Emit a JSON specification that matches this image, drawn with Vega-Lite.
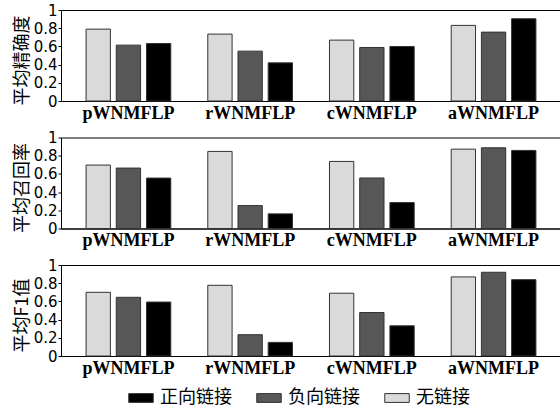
{
  "$schema": "https://vega.github.io/schema/vega-lite/v6.json",
  "padding": {"left": 12, "top": 2, "right": 0, "bottom": 5},
  "background": "white",
  "data": {
    "values": [
      {"m": "P", "method": "pWNMFLP", "link": "无链接", "value": 0.79},
      {"m": "P", "method": "pWNMFLP", "link": "负向链接", "value": 0.614},
      {"m": "P", "method": "pWNMFLP", "link": "正向链接", "value": 0.632},
      {"m": "P", "method": "rWNMFLP", "link": "无链接", "value": 0.735},
      {"m": "P", "method": "rWNMFLP", "link": "负向链接", "value": 0.548},
      {"m": "P", "method": "rWNMFLP", "link": "正向链接", "value": 0.419},
      {"m": "P", "method": "cWNMFLP", "link": "无链接", "value": 0.669},
      {"m": "P", "method": "cWNMFLP", "link": "负向链接", "value": 0.588},
      {"m": "P", "method": "cWNMFLP", "link": "正向链接", "value": 0.599},
      {"m": "P", "method": "aWNMFLP", "link": "无链接", "value": 0.831},
      {"m": "P", "method": "aWNMFLP", "link": "负向链接", "value": 0.757},
      {"m": "P", "method": "aWNMFLP", "link": "正向链接", "value": 0.904},
      {"m": "R", "method": "pWNMFLP", "link": "无链接", "value": 0.697},
      {"m": "R", "method": "pWNMFLP", "link": "负向链接", "value": 0.664},
      {"m": "R", "method": "pWNMFLP", "link": "正向链接", "value": 0.554},
      {"m": "R", "method": "rWNMFLP", "link": "无链接", "value": 0.847},
      {"m": "R", "method": "rWNMFLP", "link": "负向链接", "value": 0.252},
      {"m": "R", "method": "rWNMFLP", "link": "正向链接", "value": 0.161},
      {"m": "R", "method": "cWNMFLP", "link": "无链接", "value": 0.737},
      {"m": "R", "method": "cWNMFLP", "link": "负向链接", "value": 0.555},
      {"m": "R", "method": "cWNMFLP", "link": "正向链接", "value": 0.285},
      {"m": "R", "method": "aWNMFLP", "link": "无链接", "value": 0.872},
      {"m": "R", "method": "aWNMFLP", "link": "负向链接", "value": 0.887},
      {"m": "R", "method": "aWNMFLP", "link": "正向链接", "value": 0.858},
      {"m": "F", "method": "pWNMFLP", "link": "无链接", "value": 0.70},
      {"m": "F", "method": "pWNMFLP", "link": "负向链接", "value": 0.645},
      {"m": "F", "method": "pWNMFLP", "link": "正向链接", "value": 0.593},
      {"m": "F", "method": "rWNMFLP", "link": "无链接", "value": 0.777},
      {"m": "F", "method": "rWNMFLP", "link": "负向链接", "value": 0.234},
      {"m": "F", "method": "rWNMFLP", "link": "正向链接", "value": 0.150},
      {"m": "F", "method": "cWNMFLP", "link": "无链接", "value": 0.690},
      {"m": "F", "method": "cWNMFLP", "link": "负向链接", "value": 0.478},
      {"m": "F", "method": "cWNMFLP", "link": "正向链接", "value": 0.332},
      {"m": "F", "method": "aWNMFLP", "link": "无链接", "value": 0.869},
      {"m": "F", "method": "aWNMFLP", "link": "负向链接", "value": 0.920},
      {"m": "F", "method": "aWNMFLP", "link": "正向链接", "value": 0.839}
    ]
  },
  "config": {
    "view": {"stroke": "black", "strokeWidth": 1},
    "axis": {"domainColor": "black", "domainWidth": 1, "grid": false},
    "legend": {"labelFont": "Noto Sans CJK SC", "labelFontSize": 18, "labelColor": "black"}
  },
  "bounds": "flush",
  "spacing": 36.5,
  "vconcat": [
    {
      "width": 500, "height": 91,
      "transform": [{"filter": "datum.m == 'P'"}],
      "mark": {"type": "bar", "stroke": "#333333", "strokeWidth": 1},
      "encoding": {
        "x": {"field": "method", "type": "nominal", "sort": ["pWNMFLP", "rWNMFLP", "cWNMFLP", "aWNMFLP"],
              "scale": {"paddingInner": 0, "paddingOuter": 0.054},
              "axis": {"title": null, "labelAngle": 0, "ticks": false, "labelPadding": 3, "labelFont": "Liberation Serif", "labelFontWeight": "bold", "labelFontSize": 18, "labelColor": "black"}},
        "xOffset": {"field": "link", "type": "nominal", "sort": ["无链接", "负向链接", "正向链接"],
                    "scale": {"paddingInner": 0.195, "paddingOuter": 0.6125}},
        "y": {"field": "value", "type": "quantitative", "scale": {"domain": [0, 1]},
              "axis": {"title": "平均精确度", "values": [0, 0.2, 0.4, 0.6, 0.8, 1], "format": ".1~f", "labelOverlap": false, "tickSize": 3, "tickColor": "black", "labelPadding": 1, "labelFont": "DejaVu Sans", "labelFontSize": 15, "labelColor": "black", "titleFont": "Noto Sans CJK SC", "titleFontSize": 18, "titleFontWeight": "normal", "titleColor": "black", "titlePadding": 2, "titleY": 50}},
        "color": {"field": "link", "type": "nominal",
                  "scale": {"domain": ["正向链接", "负向链接", "无链接"], "range": ["#000000", "#575757", "#dadada"]},
                  "legend": {"title": null, "orient": "none", "direction": "horizontal", "legendX": 67, "legendY": 375, "symbolType": "M-1,-0.36H1V0.36H-1Z", "symbolSize": 600, "symbolStrokeColor": "#333333", "symbolStrokeWidth": 1, "labelOffset": 6, "columnPadding": 22}}
      }
    },
    {
      "width": 500, "height": 91,
      "transform": [{"filter": "datum.m == 'R'"}],
      "mark": {"type": "bar", "stroke": "#333333", "strokeWidth": 1},
      "encoding": {
        "x": {"field": "method", "type": "nominal", "sort": ["pWNMFLP", "rWNMFLP", "cWNMFLP", "aWNMFLP"],
              "scale": {"paddingInner": 0, "paddingOuter": 0.054},
              "axis": {"title": null, "labelAngle": 0, "ticks": false, "labelPadding": 3, "labelFont": "Liberation Serif", "labelFontWeight": "bold", "labelFontSize": 18, "labelColor": "black"}},
        "xOffset": {"field": "link", "type": "nominal", "sort": ["无链接", "负向链接", "正向链接"],
                    "scale": {"paddingInner": 0.195, "paddingOuter": 0.6125}},
        "y": {"field": "value", "type": "quantitative", "scale": {"domain": [0, 1]},
              "axis": {"title": "平均召回率", "values": [0, 0.2, 0.4, 0.6, 0.8, 1], "format": ".1~f", "labelOverlap": false, "tickSize": 3, "tickColor": "black", "labelPadding": 1, "labelFont": "DejaVu Sans", "labelFontSize": 15, "labelColor": "black", "titleFont": "Noto Sans CJK SC", "titleFontSize": 18, "titleFontWeight": "normal", "titleColor": "black", "titlePadding": 2, "titleY": 50}},
        "color": {"field": "link", "type": "nominal",
                  "scale": {"domain": ["正向链接", "负向链接", "无链接"], "range": ["#000000", "#575757", "#dadada"]},
                  "legend": null}
      }
    },
    {
      "width": 500, "height": 91,
      "transform": [{"filter": "datum.m == 'F'"}],
      "mark": {"type": "bar", "stroke": "#333333", "strokeWidth": 1},
      "encoding": {
        "x": {"field": "method", "type": "nominal", "sort": ["pWNMFLP", "rWNMFLP", "cWNMFLP", "aWNMFLP"],
              "scale": {"paddingInner": 0, "paddingOuter": 0.054},
              "axis": {"title": null, "labelAngle": 0, "ticks": false, "labelPadding": 3, "labelFont": "Liberation Serif", "labelFontWeight": "bold", "labelFontSize": 18, "labelColor": "black"}},
        "xOffset": {"field": "link", "type": "nominal", "sort": ["无链接", "负向链接", "正向链接"],
                    "scale": {"paddingInner": 0.195, "paddingOuter": 0.6125}},
        "y": {"field": "value", "type": "quantitative", "scale": {"domain": [0, 1]},
              "axis": {"title": "平均F1值", "values": [0, 0.2, 0.4, 0.6, 0.8, 1], "format": ".1~f", "labelOverlap": false, "tickSize": 3, "tickColor": "black", "labelPadding": 1, "labelFont": "DejaVu Sans", "labelFontSize": 15, "labelColor": "black", "titleFont": "Noto Sans CJK SC", "titleFontSize": 18, "titleFontWeight": "normal", "titleColor": "black", "titlePadding": 2, "titleY": 50}},
        "color": {"field": "link", "type": "nominal",
                  "scale": {"domain": ["正向链接", "负向链接", "无链接"], "range": ["#000000", "#575757", "#dadada"]},
                  "legend": null}
      }
    }
  ]
}
